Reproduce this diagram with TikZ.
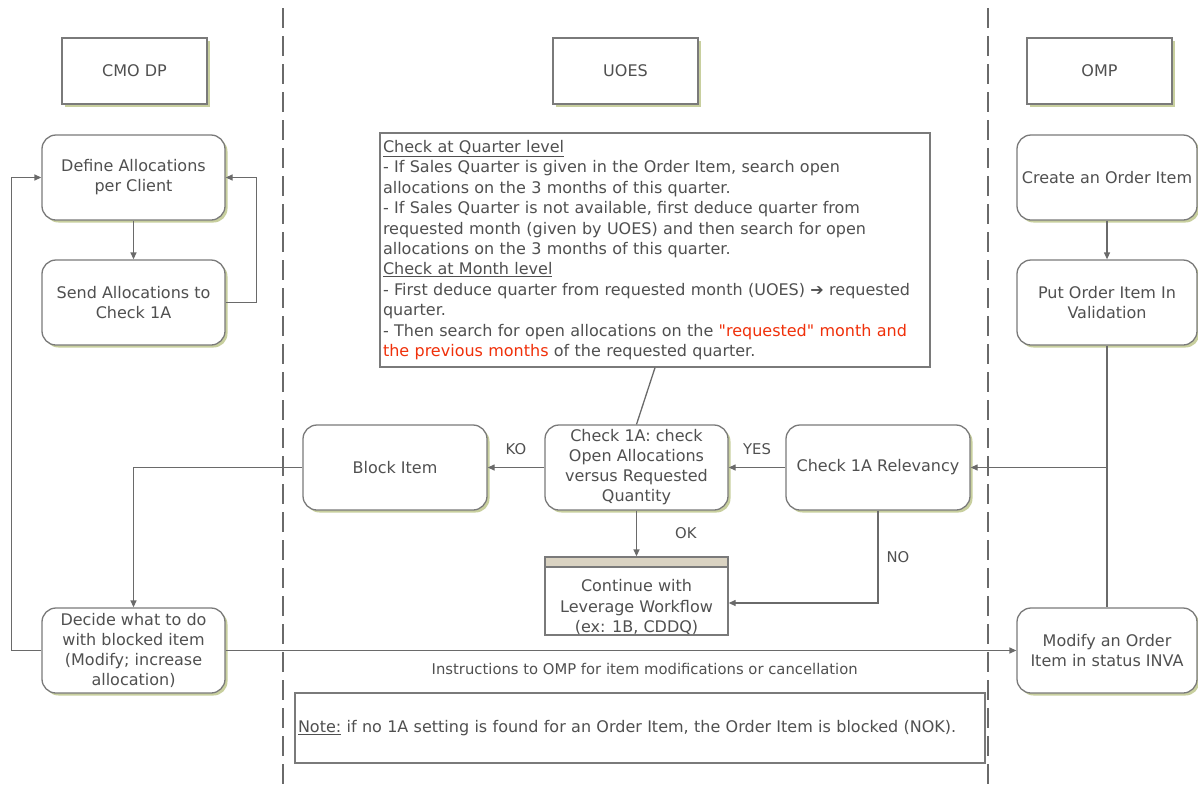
\documentclass[tikz,border=0pt]{standalone}
\usepackage{fontspec}
\setmainfont{DejaVu Sans}[Ligatures=TeXOff]
\usetikzlibrary{arrows.meta,shadows}
\definecolor{txt}{HTML}{505050}
\definecolor{ln}{HTML}{6A6A6A}
\definecolor{bd}{HTML}{7A7A7A}
\definecolor{shd}{HTML}{C8CF9E}
\definecolor{band}{HTML}{DAD3C2}
\definecolor{redt}{HTML}{F0300A}
\tikzset{
  boxshadow/.style={general shadow={fill=shd, shadow xshift=2.5pt, shadow yshift=-2.5pt}},
  proc/.style={draw=bd, line width=1.3pt, fill=white, rounded corners=14pt, minimum width=183pt, minimum height=85pt, align=center, text=txt, font=\fontsize{16}{20}\selectfont, inner sep=2pt, boxshadow},
  hdr/.style={draw=bd, line width=1.3pt, fill=white, minimum width=145pt, minimum height=66pt, text=txt, font=\fontsize{16}{20}\selectfont, boxshadow},
  plainbox/.style={draw=bd, line width=1.3pt, fill=white, text=txt},
  conn/.style={draw=ln, line width=1.3pt},
  arr/.style={conn, -{Triangle[length=7pt,width=6pt]}},
  lab/.style={text=txt, font=\fontsize{14.8}{18}\selectfont, inner sep=0pt},
  lane/.style={draw=ln, line width=1.6pt, dash pattern=on 20pt off 8pt},
}
\begin{document}
\begin{tikzpicture}[x=1pt,y=-1pt]
\useasboundingbox (0,0) rectangle (1198,785);
% swimlane separators
\draw[lane] (283,8) -- (283,785);
\draw[lane] (988,8) -- (988,785);
% headers
\node[hdr] (hcmo) at (134.5,71) {CMO DP};
\node[hdr] (huoes) at (625.5,71) {UOES};
\node[hdr] (homp) at (1099.5,71) {OMP};
% CMO DP lane
\node[proc] (def) at (133.5,177.5) {Define Allocations\\per Client};
\node[proc] (send) at (133.5,302.5) {Send Allocations to\\Check 1A};
\node[proc] (decide) at (133.5,650.5) {Decide what to do\\with blocked item\\(Modify; increase\\allocation)};
% UOES lane
\node[plainbox, minimum width=550pt, minimum height=234pt, text width=544pt, align=left, inner xsep=3pt, font=\fontsize{16}{20.4}\selectfont] (big) at (655,250) {\underline{Check at Quarter level}\\
- If Sales Quarter is given in the Order Item, search open\\
allocations on the 3 months of this quarter.\\
- If Sales Quarter is not available, first deduce quarter from\\
requested month (given by UOES) and then search for open\\
allocations on the 3 months of this quarter.\\
\underline{Check at Month level}\\
- First deduce quarter from requested month (UOES) ➔ requested\\
quarter.\\
- Then search for open allocations on the \textcolor{redt}{"requested" month and}\\
\textcolor{redt}{the previous months} of the requested quarter.};
\node[proc, minimum width=184pt] (block) at (395,467.5) {Block Item};
\node[proc] (check) at (636.5,467.5) {Check 1A: check\\Open Allocations\\versus Requested\\Quantity};
\node[proc, minimum width=184pt] (rel) at (878,467.5) {Check 1A Relevancy};
\node[plainbox, minimum width=183pt, minimum height=78pt, align=center, font=\fontsize{16}{20.5}\selectfont, text depth=0pt,
  path picture={\fill[band] (path picture bounding box.north west) rectangle ([yshift=-10pt]path picture bounding box.north east);
  \draw[bd, line width=1.3pt] ([yshift=-10pt]path picture bounding box.north west) -- ([yshift=-10pt]path picture bounding box.north east);}] (cont) at (636.5,596) {\raisebox{2pt}{\begin{tabular}{@{}c@{}}Continue with\\Leverage Workflow\\(ex: 1B, CDDQ)\end{tabular}}};
\node[plainbox, minimum width=690pt, minimum height=70pt, text width=684pt, align=left, inner xsep=3pt, font=\fontsize{16}{18}\selectfont] (note) at (640,728) {\underline{Note:} if no 1A setting is found for an Order Item, the Order Item is blocked (NOK).};
% OMP lane
\node[proc, minimum width=180pt] (create) at (1107,177.5) {Create an Order Item};
\node[proc, minimum width=180pt] (put) at (1107,302.5) {Put Order Item In\\Validation};
\node[proc, minimum width=180pt] (modify) at (1107,650.5) {Modify an Order\\Item in status INVA};
% connectors
\draw[arr] (def) -- (send);
\draw[arr] (send.east) -- ++(31,0) |- (def.east);
\draw[arr] (decide.west) -- ++(-30,0) |- (def.west);
\draw[arr] (block.west) -| (decide.north);
\draw[arr] (check.west) -- node[lab, above=12pt] {KO} (block.east);
\draw[arr] (rel.west) -- node[lab, above=12pt] {YES} (check.east);
\draw[arr] (check.south) -- node[lab, right=38pt, pos=0.5] {OK} (cont.north);
\draw[arr] (rel.south) |- node[lab, pos=0.25, right=8pt] {NO} ([yshift=-7pt]cont.east);
\draw[conn] (big.south) -- (check.north);
\draw[arr] (create) -- (put);
\draw[conn] (put.south) -- (modify.north);
\coordinate (junc) at (put.south |- rel.east);
\draw[arr] (junc) -- (rel.east);
\draw[arr] (decide.east) -- node[lab, below=12pt, pos=0.53] {Instructions to OMP for item modifications or cancellation} (modify.west);
\end{tikzpicture}
\end{document}
